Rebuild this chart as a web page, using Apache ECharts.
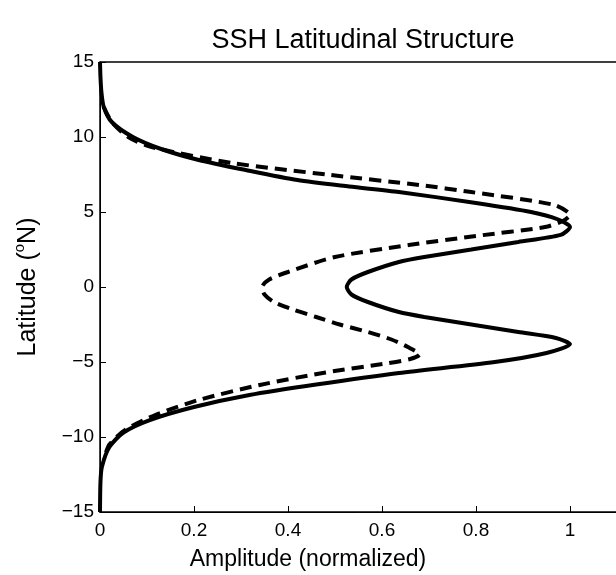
<html><head><script src="https://cdn.jsdelivr.net/npm/echarts@6/dist/echarts.min.js"></script></head>
<body style="margin:0;overflow:hidden"><div id="c" style="width:616px;height:575px"></div>
<script>
const solidLat=[15,14,13,12,11,10,9.2,8.47,7.8,7.13,6.7,6.33,5.6,5,4.5,4,3.47,3,2.5,2,1.67,1,0.5,0,-0.5,-1,-1.67,-2,-2.5,-3,-3.4,-3.8,-4.4,-5,-5.73,-6.5,-7.2,-8,-8.87,-9.7,-10.67,-12,-13,-15];
const solidAmp=[0,0.001,0.003,0.008,0.025,0.07,0.13,0.21,0.31,0.42,0.53,0.636,0.8,0.917,0.975,1.0,0.98,0.89,0.79,0.69,0.636,0.57,0.535,0.525,0.535,0.57,0.636,0.69,0.79,0.89,0.97,1.0,0.95,0.84,0.636,0.46,0.318,0.2,0.106,0.05,0.02,0.004,0.001,0];
const dashLat=[12,11,10,9.33,8.27,7.47,6.8,6.33,5.47,4.8,4.4,4,3.4,2.8,2,1,0.5,0,-0.5,-1,-1.5,-2,-2.5,-3,-3.5,-4,-4.5,-4.8,-5.07,-5.7,-6.53,-7.53,-8.5,-9.5,-10.5,-11.5];
const dashAmp=[0.008,0.025,0.06,0.11,0.28,0.49,0.68,0.79,0.967,1.0,0.985,0.947,0.8,0.657,0.5,0.4,0.36,0.345,0.35,0.37,0.41,0.46,0.51,0.57,0.62,0.655,0.68,0.66,0.614,0.48,0.34,0.21,0.12,0.055,0.02,0.008];
const xTitle='Amplitude (normalized)';
const toPts=(a,l)=>a.map((v,i)=>[v,l[i]]);
const ch=echarts.init(document.getElementById('c'));
const font='Liberation Sans';
ch.setOption({
 title:{text:'SSH Latitudinal Structure',left:358,top:12,textAlign:'center',textStyle:{fontFamily:font,fontSize:27,fontWeight:'normal',color:'#000'}},
 graphic:[{type:'text',left:'center',top:540,style:{text:xTitle,x:0,fontFamily:font,fontSize:23,fill:'#000'},position:[0,0]}],
 grid:{left:100,top:62,right:-1,bottom:63,outerBoundsMode:'none',containLabel:false,show:true,borderColor:'#000',borderWidth:1.5},
 xAxis:{type:'value',min:0,max:1.1,interval:0.2,
  axisLine:{onZero:false,lineStyle:{color:'#000'}},axisTick:{inside:true,length:6,lineStyle:{color:'#000'}},splitLine:{show:false},
  axisLabel:{fontFamily:font,fontSize:19,color:'#000',margin:2,formatter:v=>v>1.05?'':String(+v.toFixed(1))}},
 yAxis:{type:'value',min:-15,max:15,interval:5,name:'Latitude ({s|o}N)',nameLocation:'middle',nameGap:50,nameMoveOverlap:false,
  nameTextStyle:{fontFamily:font,fontSize:25,color:'#000',rich:{s:{fontFamily:font,fontSize:15,verticalAlign:'top',padding:[0,0,12,0],color:'#000'}}},
  axisLine:{onZero:false,lineStyle:{color:'#000'}},axisTick:{inside:true,length:6,lineStyle:{color:'#000'}},splitLine:{show:false},
  axisLabel:{fontFamily:font,fontSize:19,color:'#000',margin:6,formatter:v=>v<0?'\u2212'+(-v):String(v)}},
 series:[
  {type:'line',data:toPts(solidAmp,solidLat),showSymbol:false,smooth:0.25,lineStyle:{color:'#000',width:4}},
  {type:'line',data:toPts(dashAmp,dashLat),showSymbol:false,smooth:0.25,lineStyle:{color:'#000',width:4,type:[12,7]}}
 ]});
</script></body></html>
